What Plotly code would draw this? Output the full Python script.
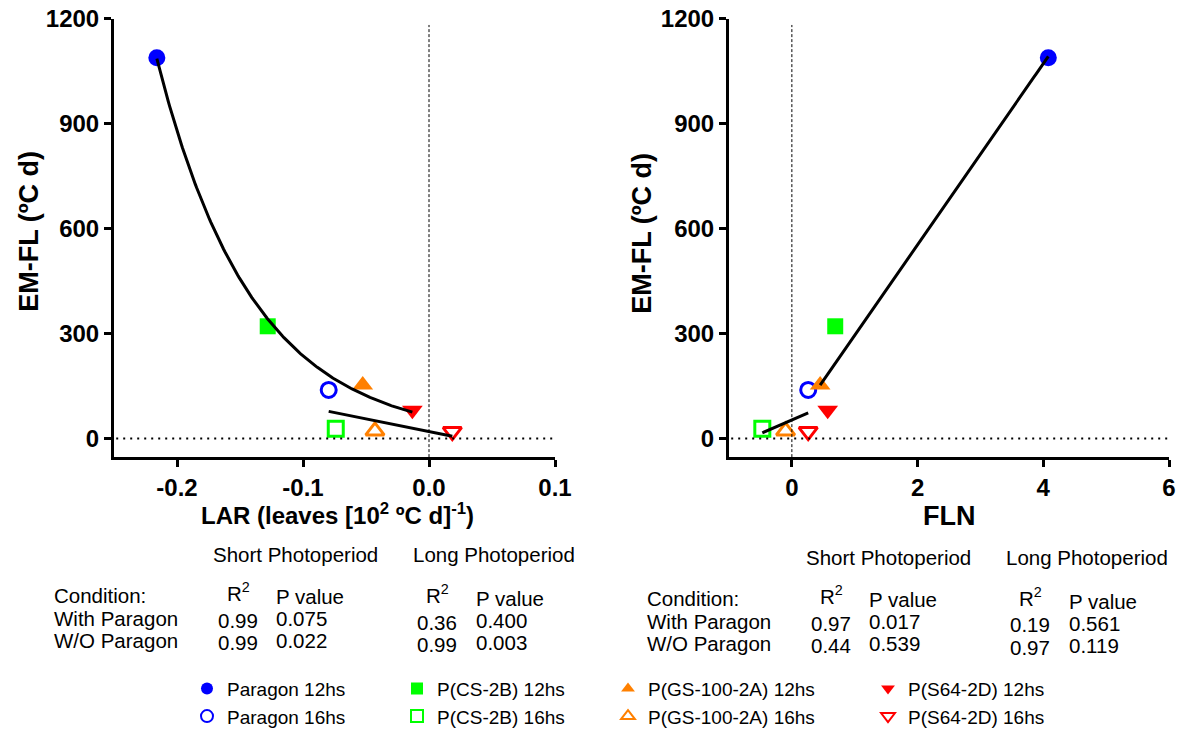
import numpy as np
import plotly.graph_objects as go

# ---------------------------------------------------------------- data
genotypes = ["Paragon", "P(CS-2B)", "P(GS-100-2A)", "P(S64-2D)"]

# leaf appearance rate, LAR (leaves [10^2 ºC d]^-1)
lar_12hs = [-0.216, -0.128, -0.0526, -0.0132]
lar_16hs = [-0.0796, -0.074, -0.0429, 0.0185]

# final leaf number, FLN
fln_12hs = [4.08, 0.69, 0.45, 0.57]
fln_16hs = [0.26, -0.47, -0.10, 0.26]

# emergence to flag leaf, EM-FL (ºC d)
emfl_12hs = [1089, 321, 153, 81]
emfl_16hs = [139, 28, 22, 20]

# regression statistics shown under each panel
conditions = ["With Paragon", "W/O Paragon"]
lar_short_r2 = ["0.99", "0.99"]
lar_short_p = ["0.075", "0.022"]
lar_long_r2 = ["0.36", "0.99"]
lar_long_p = ["0.400", "0.003"]
fln_short_r2 = ["0.97", "0.44"]
fln_short_p = ["0.017", "0.539"]
fln_long_r2 = ["0.19", "0.97"]
fln_long_p = ["0.561", "0.119"]

# ---------------------------------------------------------------- style
FONT = "Liberation Sans, Arial, sans-serif"
W, H = 1180, 736
colors = ["#0000FF", "#00FF00", "#FF8000", "#FF0000"]
symbols = ["circle", "square", "triangle-up", "triangle-down"]
sizes_filled = [17, 16, 18, 18]
sizes_open = [15, 15, 16, 16]


def px(x):
    return x / W


def py(y):
    return 1 - y / H


# ---------------------------------------------------------------- fits
def exp_fit(x, y):
    """Least-squares fit of y = A*exp(-k*x)."""
    x = np.asarray(x, float)
    y = np.asarray(y, float)
    ks = np.linspace(0.5, 40, 7901)
    E = np.exp(-np.outer(ks, x))
    A = (E @ y) / (E ** 2).sum(axis=1)
    sse = ((A[:, None] * E - y) ** 2).sum(axis=1)
    i = int(sse.argmin())
    return lambda t: A[i] * np.exp(-ks[i] * t)


def lin_fit(x, y):
    b, a = np.polyfit(x, y, 1)
    return lambda t: a + b * t


def span(x):
    return np.linspace(min(x), max(x), 200)


fig = go.Figure()

panels = [
    ("x", "y", lar_12hs, lar_16hs, exp_fit, lin_fit),
    ("x2", "y2", fln_12hs, fln_16hs, lin_fit, lin_fit),
]

for p, (xa, ya, x12, x16, fit12, fit16) in enumerate(panels):
    for g in range(4):
        legend_name = "legend" if g == 0 else f"legend{g + 1}"
        fig.add_trace(go.Scatter(
            x=[x12[g]], y=[emfl_12hs[g]], xaxis=xa, yaxis=ya,
            mode="markers", name=f"{genotypes[g]} 12hs",
            legend=legend_name, showlegend=(p == 0),
            marker=dict(symbol=symbols[g], size=sizes_filled[g],
                        color=colors[g], line=dict(width=0)),
        ))
        fig.add_trace(go.Scatter(
            x=[x16[g]], y=[emfl_16hs[g]], xaxis=xa, yaxis=ya,
            mode="markers", name=f"{genotypes[g]} 16hs",
            legend=legend_name, showlegend=(p == 0),
            marker=dict(symbol=symbols[g] + "-open", size=sizes_open[g],
                        color=colors[g], line=dict(width=3, color=colors[g])),
        ))
    # regression curves for each photoperiod
    for xs, ys, fit in ((x12, emfl_12hs, fit12), (x16, emfl_16hs, fit16)):
        t = span(xs)
        f = fit(xs, ys)
        fig.add_trace(go.Scatter(
            x=t, y=f(t), xaxis=xa, yaxis=ya, mode="lines",
            line=dict(color="black", width=3), showlegend=False,
            hoverinfo="skip",
        ))

# ---------------------------------------------------------------- axes
tickfont = dict(family=FONT, size=24, color="black", weight="bold")
axis_common = dict(
    showline=True, linewidth=3, linecolor="black", ticks="outside",
    ticklen=7, tickwidth=3, tickcolor="black", showgrid=False,
    zeroline=False, tickfont=tickfont, automargin=False,
)
y_top, y_bot = 19, 461.5
fig.update_layout(
    xaxis=dict(domain=[px(114), px(555)], range=[-0.25, 0.1],
               tickvals=[-0.2, -0.1, 0.0, 0.1],
               ticktext=["-0.2", "-0.1", "0.0", "0.1"],
               anchor="y", **axis_common),
    yaxis=dict(domain=[py(y_bot), py(y_top)], range=[-53, 1200],
               tickvals=[0, 300, 600, 900, 1200], anchor="x", **axis_common),
    xaxis2=dict(domain=[px(729), px(1169)], range=[-1, 6],
                tickvals=[0, 2, 4, 6], anchor="y2", **axis_common),
    yaxis2=dict(domain=[py(y_bot), py(y_top)], range=[-53, 1200],
                tickvals=[0, 300, 600, 900, 1200], anchor="x2", **axis_common),
)

# reference lines at zero
shapes = []
for xa, ya in (("x", "y"), ("x2", "y2")):
    shapes.append(dict(type="line", xref=f"{xa} domain", yref=ya,
                       x0=0.005, x1=1, y0=0, y1=0,
                       line=dict(color="black", width=2, dash="2px,5px")))
    shapes.append(dict(type="line", xref=xa, yref=f"{ya} domain",
                       x0=0, x1=0, y0=0, y1=0.986,
                       line=dict(color="black", width=1, dash="3px,2px")))
fig.update_layout(shapes=shapes)

# ---------------------------------------------------------------- titles
ann = []
title_font = dict(family=FONT, color="black", weight="bold")


def title_at(s, x, y, size, angle=0):
    ann.append(dict(text=s, x=px(x), y=py(y), xref="paper", yref="paper",
                    xanchor="center", yanchor="middle", textangle=angle,
                    showarrow=False, font=dict(size=size, **title_font)))


title_at("EM-FL (ºC d)", 29, 234, 27, -90)
title_at("EM-FL (ºC d)", 642, 236, 27, -90)
title_at("LAR (leaves [10<sup>2</sup> ºC d]<sup>-1</sup>)", 337, 519, 24)
title_at("FLN", 949, 521, 27)

# ---------------------------------------------------------------- tables
tfont = dict(family=FONT, size=20.5, color="black")
tables = [
    (0, 0, lar_short_r2, lar_short_p, lar_long_r2, lar_long_p),
    (593, 3, fln_short_r2, fln_short_p, fln_long_r2, fln_long_p),
]


def text_at(s, x, y, anchor="left"):
    ann.append(dict(text=s, x=px(x), y=py(y), xref="paper", yref="paper",
                    xanchor=anchor, yanchor="middle", showarrow=False,
                    font=tfont))


for dx, dy, sr2, sp, lr2, lp in tables:
    dy += 5
    text_at("Short Photoperiod", 211 + dx, 555 + dy)
    text_at("Long Photoperiod", 411 + dx, 555 + dy)
    text_at("Condition:", 52 + dx, 596 + dy)
    text_at("R<sup>2</sup>", 238 + dx, 593 + dy, "center")
    text_at("P value", 274 + dx, 597 + dy)
    text_at("R<sup>2</sup>", 437 + dx, 595 + dy, "center")
    text_at("P value", 474 + dx, 599 + dy)
    for r in range(2):
        y = 619 + 23 * r + dy
        text_at(conditions[r], 52 + dx, y)
        text_at(sr2[r], 238 + dx, y + 2, "center")
        text_at(sp[r], 274 + dx, y)
        text_at(lr2[r], 437 + dx, y + 4, "center")
        text_at(lp[r], 474 + dx, y + 2)

fig.update_layout(annotations=ann)

# ---------------------------------------------------------------- legends
legend_x = [187, 397, 608, 868]
legend_font = dict(family=FONT, size=19, color="black")
for g, lx in enumerate(legend_x):
    key = "legend" if g == 0 else f"legend{g + 1}"
    fig.update_layout({key: dict(
        x=px(lx), y=py(676), xanchor="left", yanchor="top",
        orientation="v", font=legend_font, itemsizing="constant",
        bgcolor="rgba(0,0,0,0)", borderwidth=0, tracegroupgap=0,
    )})

fig.update_layout(
    width=W, height=H, margin=dict(l=0, r=0, t=0, b=0),
    paper_bgcolor="white", plot_bgcolor="white",
    font=dict(family=FONT, color="black"),
)

fig.write_html("out.html")
